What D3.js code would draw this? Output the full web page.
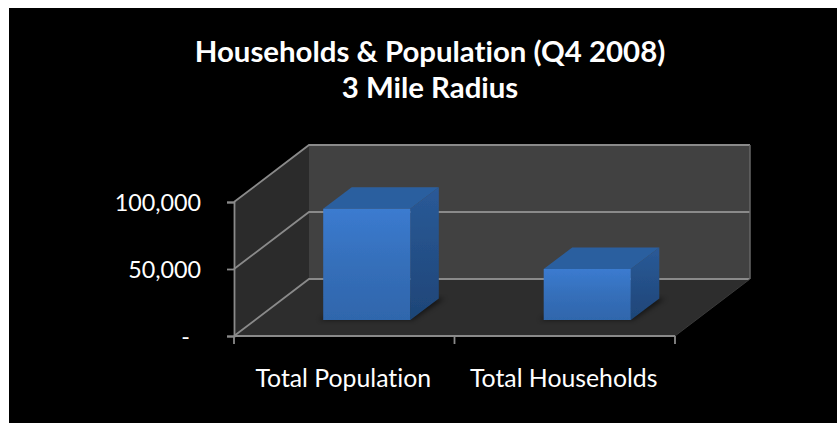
<!DOCTYPE html>
<html>
<head>
<meta charset="utf-8">
<script src="https://cdn.jsdelivr.net/npm/d3@7"></script>
<style>
  html, body { margin: 0; padding: 0; background: #fff; }
  svg { display: block; }
  text { font-family: Lato, "Open Sans", sans-serif; fill: #fff; font-variant-ligatures: none; }
  .title { font-size: 29.4px; font-weight: 700; text-anchor: middle; }
  .ylbl { font-size: 23.3px; }
  .xlbl { font-size: 24.8px; }
</style>
</head>
<body>
<div id="chart"></div>
<script>
// Données
var categories = ["Total Population", "Total Households"];
var values = [83000, 38000];
var yTicks = [0, 50000, 100000];
var yLabels = ["-", "50,000", "100,000"];
var titleLines = ["Households & Population (Q4 2008)", "3 Mile Radius"];

var totalWidth = 837, totalHeight = 423;

var svg = d3.select("#chart").append("svg")
    .attr("width", totalWidth)
    .attr("height", totalHeight);

// échelles : x, y, et profondeur (z) pour l'effet 3D
var x = d3.scaleBand().domain(categories).range([234, 675]),
    y = d3.scaleLinear().domain([0, 100000]).range([336, 202]),
    zx = d3.scaleLinear().domain([0, 1]).range([0, 75]),
    zy = d3.scaleLinear().domain([0, 1]).range([0, -57]);

function pt(px, py, z) { return [px + zx(z), py + zy(z)]; }
function poly(points) { return d3.line()(points) + "Z"; }

var x0 = x.range()[0], x1 = x.range()[1], y0 = y(0), yMax = y(100000);

// dégradés
var defs = svg.append("defs");
function gradient(id, x2, y2, stops) {
    var g = defs.append("linearGradient").attr("id", id)
        .attr("x1", 0).attr("y1", 0).attr("x2", x2).attr("y2", y2);
    stops.forEach(function(s) {
        g.append("stop").attr("offset", s[0]).attr("stop-color", s[1]);
    });
}
gradient("front", 0, 1, [[0, "#3b7bd0"], [0.5, "#356fba"], [1, "#2f66ac"]]);
gradient("side", 0, 1, [[0, "#2a5a98"], [1, "#1e4577"]]);
defs.append("filter").attr("id", "soft")
    .attr("x", "-10%").attr("y", "-10%").attr("width", "120%").attr("height", "120%")
    .append("feGaussianBlur").attr("stdDeviation", 0.7);
defs.append("filter").attr("id", "shadow")
    .attr("x", "-20%").attr("y", "-20%").attr("width", "140%").attr("height", "140%")
    .append("feGaussianBlur").attr("stdDeviation", 2.5);

// fond
svg.append("rect").attr("x", 9).attr("y", 8)
    .attr("width", 828).attr("height", 415)
    .attr("fill", "#000");

// titre
svg.selectAll(".title").data(titleLines).enter().append("text")
    .attr("class", "title")
    .attr("x", 430)
    .attr("y", function(d, i) { return 62 + i * 36; })
    .text(function(d) { return d; });

// murs et sol
svg.append("path").attr("fill", "#2b2b2b")
    .attr("d", poly([[x0, yMax], pt(x0, yMax, 1), pt(x0, y0, 1), [x0, y0]]));
svg.append("path").attr("fill", "#414141")
    .attr("d", poly([pt(x0, yMax, 1), pt(x1, yMax, 1), pt(x1, y0, 1), pt(x0, y0, 1)]));
svg.append("path").attr("fill", "#2d2d2d")
    .attr("d", poly([[x0, y0], [x1, y0], pt(x1, y0, 1), pt(x0, y0, 1)]));

// grille
var grid = "#8a8a8a";
yTicks.forEach(function(t) {
    svg.append("path").attr("fill", "none").attr("stroke", grid).attr("stroke-width", 1.8)
        .attr("d", d3.line()([[x0, y(t)], pt(x0, y(t), 1), pt(x1, y(t), 1)]));
});
svg.append("line").attr("stroke", "#666").attr("stroke-width", 1.5)
    .attr("x1", pt(x1, y0, 1)[0]).attr("y1", yMax + zy(1))
    .attr("x2", pt(x1, y0, 1)[0]).attr("y2", y0 + zy(1));
svg.append("path").attr("fill", "none").attr("stroke", "#3a3a3a").attr("stroke-width", 1)
    .attr("d", d3.line()([[x1, y0], pt(x1, y0, 1)]));

// barres
var zFront = 0.28, zBack = 0.66;
var bars = svg.selectAll(".bar").data(categories).enter().append("g").attr("class", "bar");
var barW = x.bandwidth() * 0.395;
function bx(d) { return x(d) + x.bandwidth() / 2 - barW / 2 + 1.5; }

bars.append("path").attr("fill", "#000").attr("opacity", 0.55).attr("filter", "url(#shadow)")
    .attr("d", function(d) {
        var l = bx(d);
        return poly([pt(l - 4, y0, zFront), pt(l + barW + 2, y0, zFront),
            pt(l + barW + 6, y0, zBack), pt(l + 4, y0, zBack)]);
    });
bars.append("path").attr("fill", "url(#side)").attr("filter", "url(#soft)")
    .attr("d", function(d, i) {
        var r = bx(d) + barW, t = y(values[i]);
        return poly([pt(r, t, zFront), pt(r, t, zBack), pt(r, y0, zBack), pt(r, y0, zFront)]);
    });
bars.append("path").attr("fill", "#2b5f9f").attr("filter", "url(#soft)")
    .attr("d", function(d, i) {
        var l = bx(d), t = y(values[i]);
        return poly([pt(l, t, zFront), pt(l + barW, t, zFront), pt(l + barW, t, zBack), pt(l, t, zBack)]);
    });
bars.append("path").attr("fill", "url(#front)").attr("filter", "url(#soft)")
    .attr("d", function(d, i) {
        var l = bx(d), t = y(values[i]);
        return poly([pt(l, t, zFront), pt(l + barW, t, zFront), pt(l + barW, y0, zFront), pt(l, y0, zFront)]);
    });

// axes
var axisY = svg.append("g").attr("transform", "translate(" + x0 + ",0)")
    .call(d3.axisLeft(y).tickValues(yTicks).tickSize(7).tickFormat(""));
var axisX = svg.append("g").attr("transform", "translate(0," + y0 + ")")
    .call(d3.axisBottom(x).tickValues([]).tickSizeOuter(0));
axisX.selectAll(".domain").remove();
svg.selectAll("g .domain").attr("stroke", grid).attr("stroke-width", 1.8);
axisY.selectAll("line").attr("stroke", grid).attr("stroke-width", 1.8);
svg.append("line").attr("stroke", grid).attr("stroke-width", 1.8)
    .attr("x1", x0).attr("x2", x1).attr("y1", y0).attr("y2", y0);

x.domain().concat(["end"]).forEach(function(d) {
    var px = d === "end" ? x1 : x(d);
    svg.append("line").attr("stroke", grid).attr("stroke-width", 1.8)
        .attr("x1", px).attr("x2", px).attr("y1", y0).attr("y2", y0 + 8);
});

// libellés
svg.selectAll(".ylbl").data(yTicks).enter().append("text")
    .attr("class", "ylbl")
    .attr("text-anchor", "end")
    .attr("x", function(d) { return d === 0 ? 190 : 201; })
    .attr("y", function(d) { return y(d) + 9; })
    .text(function(d, i) { return yLabels[i]; });
svg.selectAll(".xlbl").data(categories).enter().append("text")
    .attr("class", "xlbl")
    .attr("text-anchor", "middle")
    .attr("x", function(d) { return x(d) + x.bandwidth() / 2 - 1; })
    .attr("y", 387)
    .text(function(d) { return d; });
</script>
</body>
</html>
